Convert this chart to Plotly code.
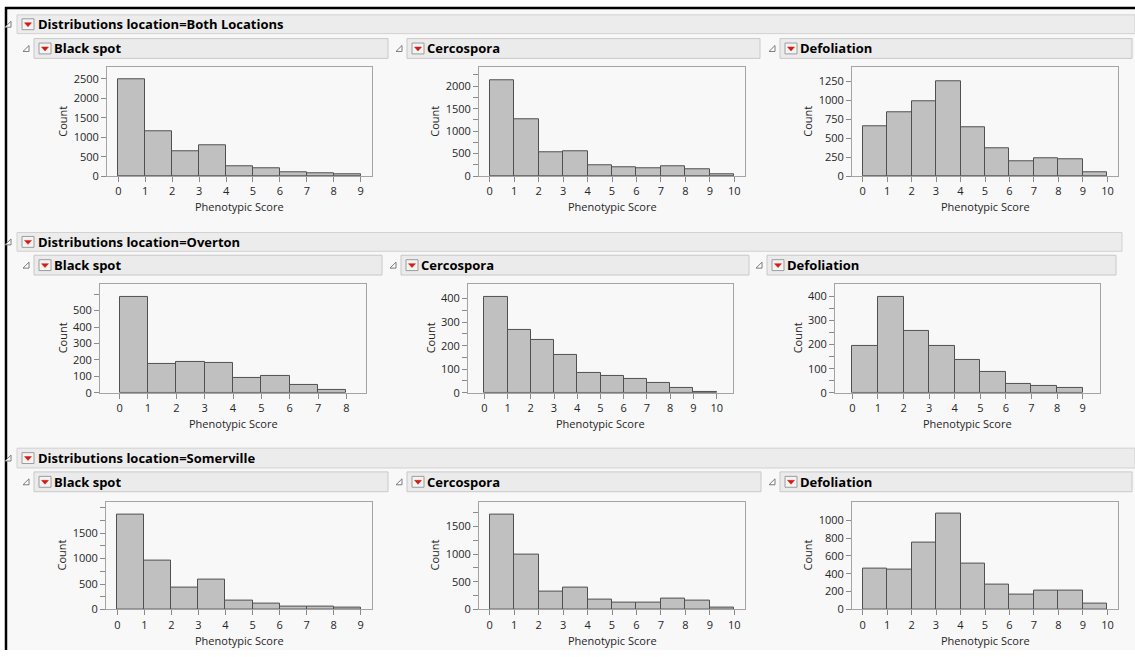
import plotly.graph_objects as go

# Histogram counts per phenotypic score bin (bin k covers score k..k+1)
both_black_spot = [2480, 1155, 635, 790, 265, 190, 110, 85, 50]
both_cercospora = [2120, 1255, 525, 555, 235, 192, 170, 215, 155, 37]
both_defoliation = [655, 845, 990, 1255, 640, 368, 192, 232, 218, 48]

overton_black_spot = [582, 178, 186, 180, 90, 102, 48, 20]
overton_cercospora = [407, 267, 226, 161, 84, 73, 58, 41, 20, 4]
overton_defoliation = [196, 397, 256, 196, 134, 86, 36, 27, 19]

somerville_black_spot = [1868, 957, 433, 588, 168, 110, 55, 52, 32]
somerville_cercospora = [1720, 988, 315, 399, 173, 131, 131, 190, 155, 42]
somerville_defoliation = [461, 450, 749, 1070, 517, 284, 166, 210, 210, 63]

locations = ["Both Locations", "Overton", "Somerville"]
traits = ["Black spot", "Cercospora", "Defoliation"]

# y-axis ticks per panel: (tick values, labelled values)
both_bs_ticks = ([0, 500, 1000, 1500, 2000, 2500], [0, 500, 1000, 1500, 2000, 2500])
both_ce_ticks = ([0, 250, 500, 750, 1000, 1250, 1500, 1750, 2000, 2250], [0, 500, 1000, 1500, 2000])
both_de_ticks = ([0, 250, 500, 750, 1000, 1250], [0, 250, 500, 750, 1000, 1250])
ov_bs_ticks = ([0, 100, 200, 300, 400, 500, 600], [0, 100, 200, 300, 400, 500])
ov_ce_ticks = ([0, 50, 100, 150, 200, 250, 300, 350, 400], [0, 100, 200, 300, 400])
ov_de_ticks = ([0, 50, 100, 150, 200, 250, 300, 350, 400], [0, 100, 200, 300, 400])
so_bs_ticks = ([0, 250, 500, 750, 1000, 1250, 1500, 1750, 2000], [0, 500, 1000, 1500])
so_ce_ticks = ([0, 250, 500, 750, 1000, 1250, 1500, 1750], [0, 500, 1000, 1500])
so_de_ticks = ([0, 200, 400, 600, 800, 1000], [0, 200, 400, 600, 800, 1000])

W, H = 1135, 657
FONT = "Open Sans"
BG = "#f8f8f8"


def fx(x):
    return x / W


def fy(y):
    return 1 - y / H


panels = [
    # (counts, ticks, y max, frame px (left, top, right, bottom), x pad)
    (both_black_spot, both_bs_ticks, 2800, (107, 68, 372, 178), 0.42),
    (both_cercospora, both_ce_ticks, 2420, (479, 68, 745, 178), 0.44),
    (both_defoliation, both_de_ticks, 1434, (852, 68, 1118, 178), 0.43),
    (overton_black_spot, ov_bs_ticks, 662, (100, 287, 366, 397), 0.69),
    (overton_cercospora, ov_ce_ticks, 462, (468, 287, 733, 397), 0.70),
    (overton_defoliation, ov_de_ticks, 451, (835, 287, 1100, 397), 0.68),
    (somerville_black_spot, so_bs_ticks, 2120, (106, 507, 372, 616), 0.42),
    (somerville_cercospora, so_ce_ticks, 1952, (479, 507, 745, 616), 0.44),
    (somerville_defoliation, so_de_ticks, 1210, (852, 507, 1118, 616), 0.43),
]

fig = go.Figure()
layout_axes = {}
annotations = []
shapes = []

# page background and outer black frame
shapes.append(dict(type="rect", xref="paper", yref="paper", x0=fx(6), x1=1, y0=0, y1=fy(8),
                   fillcolor=BG, line=dict(width=0), layer="below"))
shapes.append(dict(type="line", xref="paper", yref="paper", x0=fx(5), x1=1, y0=fy(8), y1=fy(8),
                   line=dict(color="#000000", width=2.5)))
shapes.append(dict(type="line", xref="paper", yref="paper", x0=fx(6), x1=fx(6), y0=fy(7), y1=0,
                   line=dict(color="#000000", width=2.5)))

for i, (counts, ticks, ymax, frame, pad) in enumerate(panels):
    k = i + 1
    xa = "x" if k == 1 else f"x{k}"
    ya = "y" if k == 1 else f"y{k}"
    left, top, right, bottom = frame
    n = len(counts)
    fig.add_trace(go.Bar(
        x=list(range(n)), y=counts, width=1, offset=0,
        xaxis=xa, yaxis=ya,
        marker=dict(color="#c0c0c0", line=dict(color="#505050", width=1)),
        hoverinfo="x+y", showlegend=False,
    ))
    axis_common = dict(showline=True, mirror=True, linecolor="#a4a4a4", linewidth=1,
                       showgrid=False, zeroline=False, ticks="outside", ticklen=5,
                       tickcolor="#8a8a8a", tickwidth=1,
                       tickfont=dict(family=FONT, size=11, color="#262626"),
                       fixedrange=True)
    layout_axes["xaxis" if k == 1 else f"xaxis{k}"] = dict(
        axis_common, domain=[fx(left), fx(right)], anchor=ya,
        range=[-pad, n + pad], tickmode="array", tickvals=list(range(n + 1)),
        ticktext=[str(v) for v in range(n + 1)])
    tv, labelled = ticks
    layout_axes["yaxis" if k == 1 else f"yaxis{k}"] = dict(
        axis_common, domain=[fy(bottom), fy(top)], anchor=xa,
        range=[0, ymax], tickmode="array", tickvals=tv,
        ticktext=[str(v) if v in labelled else "" for v in tv])

    row = i // 3
    count_off = 38 if row == 1 else 44
    annotations.append(dict(xref="paper", yref="paper", x=fx(left - count_off),
                            y=fy((top + bottom) / 2), text="Count", showarrow=False,
                            textangle=-90, xanchor="center", yanchor="middle",
                            font=dict(family=FONT, size=11, color="#262626")))
    annotations.append(dict(xref="paper", yref="paper", x=fx((left + right) / 2),
                            y=fy(bottom + 31), text="Phenotypic Score", showarrow=False,
                            xanchor="center", yanchor="middle",
                            font=dict(family=FONT, size=11, color="#262626")))


def disclosure(x, yc):
    # small outline triangle used as the open/close toggle
    return dict(type="path", xref="paper", yref="paper",
                path=f"M {fx(x)} {fy(yc + 3)} L {fx(x + 6)} {fy(yc + 3)} L {fx(x + 6)} {fy(yc - 3)} Z",
                fillcolor="#ffffff", line=dict(color="#7a7a7a", width=1))


def red_menu(x, yc):
    # red drop-down menu button
    return [
        dict(type="rect", xref="paper", yref="paper", x0=fx(x), x1=fx(x + 12),
             y0=fy(yc + 5.5), y1=fy(yc - 5.5), fillcolor="#f4f4f4",
             line=dict(color="#9c9c9c", width=1)),
        dict(type="path", xref="paper", yref="paper",
             path=f"M {fx(x + 2.5)} {fy(yc - 1.5)} L {fx(x + 9.5)} {fy(yc - 1.5)} L {fx(x + 6)} {fy(yc + 2.5)} Z",
             fillcolor="#d41a12", line=dict(color="#d41a12", width=0.5)),
    ]


# location header bars
loc_bars = [(15, 34, 1135), (235, 254, 1122), (453, 473, 1135)]
for loc, (y0, y1, xr) in zip(locations, loc_bars):
    shapes.append(dict(type="rect", xref="paper", yref="paper", x0=fx(17), x1=fx(xr),
                       y0=fy(y1), y1=fy(y0), fillcolor="#ececec",
                       line=dict(color="#d2d2d2", width=1)))
    yc = (y0 + y1) / 2
    shapes.append(disclosure(5, yc))
    shapes.extend(red_menu(22, yc))
    annotations.append(dict(xref="paper", yref="paper", x=fx(36), y=fy(yc),
                            text=f"<b>Distributions location={loc}</b>", showarrow=False,
                            xanchor="left", yanchor="middle",
                            font=dict(family=FONT, size=13, color="#000000")))

# trait header bars
trait_rows = [
    (39, 59, [(34, 388), (407, 760), (780, 1132)]),
    (258, 278, [(34, 382), (401, 749), (767, 1116)]),
    (477, 497, [(34, 388), (407, 761), (780, 1132)]),
]
for y0, y1, spans in trait_rows:
    yc = (y0 + y1) / 2
    for trait, (xl, xr) in zip(traits, spans):
        shapes.append(dict(type="rect", xref="paper", yref="paper", x0=fx(xl), x1=fx(xr),
                           y0=fy(y1), y1=fy(y0), fillcolor="#ebebeb",
                           line=dict(color="#c8c8c8", width=1)))
        shapes.append(disclosure(xl - 11, yc))
        shapes.extend(red_menu(xl + 5, yc))
        annotations.append(dict(xref="paper", yref="paper", x=fx(xl + 18), y=fy(yc),
                                text=f"<b>{trait}</b>", showarrow=False,
                                xanchor="left", yanchor="middle",
                                font=dict(family=FONT, size=13, color="#000000")))

fig.update_layout(
    width=W, height=H,
    margin=dict(l=0, r=0, t=0, b=0),
    paper_bgcolor="#ffffff",
    plot_bgcolor="#ffffff",
    shapes=shapes,
    annotations=annotations,
    bargap=0,
    **layout_axes,
)

fig.write_html("out.html")
